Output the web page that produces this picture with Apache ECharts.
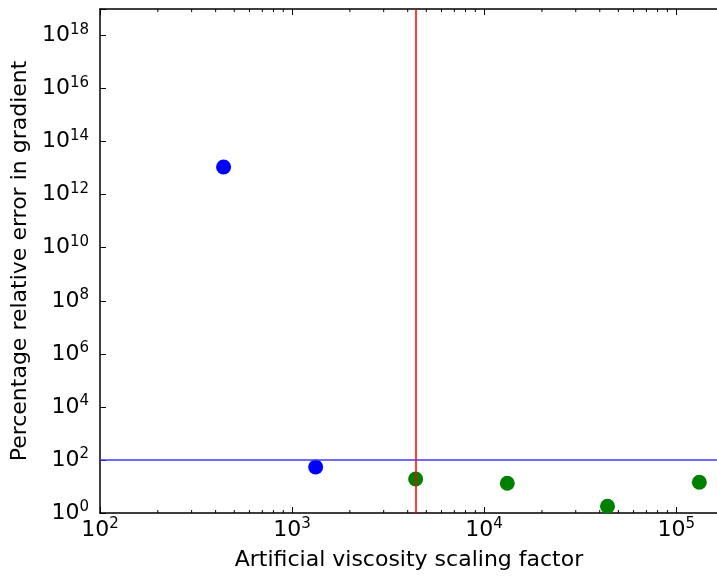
<!DOCTYPE html>
<html><head><meta charset="utf-8">
<script src="https://cdn.jsdelivr.net/npm/echarts@6/dist/echarts.min.js"></script>
<style>html,body{margin:0;padding:0;background:#fff;overflow:hidden;width:717px;height:576px}#c{width:737px;height:576px}</style>
</head><body><div id="c"></div>
<script>
// Data
const blueX = [440, 1327];
const blueY = [1.1e13, 54];
const greenX = [4400, 13200, 43900, 132000];
const greenY = [19.1, 13.2, 1.79, 14.4];
const thresholdY = 100;
const thresholdX = 4400;
const xMin = 100, xMax = 2e5;
const yMin = 1, yMax = 1e19;
const xTickExps = [2, 3, 4, 5];
const yTickExps = [0, 2, 4, 6, 8, 10, 12, 14, 16, 18];
const xTitle = 'Artificial viscosity scaling factor';
const yTitle = 'Percentage relative error in gradient';

const FONT = 'DejaVu Sans';
function expLabel(exps) {
  return function (v) {
    const l = Math.log10(v);
    const e = Math.round(l);
    if (Math.abs(l - e) > 1e-6 || exps.indexOf(e) < 0) return '';
    return '{b|10}{s|' + e + '}';
  };
}
const rich = {
  b: {fontFamily: FONT, fontSize: 22, color: '#000'},
  s: {fontFamily: FONT, fontSize: 15, color: '#000', padding: [0, 0, 11, 0]}
};
// minor tick positions on log x axis (2..9 x 10^k)
const minorX = [];
for (let k = 2; k <= 5; k++) for (let m = 2; m <= 9; m++) {
  const v = m * Math.pow(10, k);
  if (v < xMax) minorX.push([v]);
}

const chart = echarts.init(document.getElementById('c'));
chart.setOption({
  animation: false,
  backgroundColor: '#fff',
  grid: {left: 100, top: 9, bottom: 63, right: 0, containLabel: false},
  xAxis: [{
    type: 'log', logBase: 10, min: xMin, max: xMax, interval: 1,
    position: 'bottom',
    axisLine: {show: true, onZero: false, lineStyle: {color: '#000', width: 1.5}},
    axisTick: {show: true, inside: true, length: 6, lineStyle: {color: '#000', width: 1}},
    splitLine: {show: false},
    axisLabel: {formatter: expLabel(xTickExps), rich: rich, margin: 4},
    name: xTitle, nameLocation: 'middle', nameGap: 36,
    nameTextStyle: {fontFamily: FONT, fontSize: 22, color: '#000', padding: [0, 16, 0, 0]}
  }, {
    type: 'log', logBase: 10, min: xMin, max: xMax, interval: 1,
    position: 'top',
    axisLine: {show: true, onZero: false, lineStyle: {color: '#000', width: 1.5}},
    axisTick: {show: true, inside: true, length: 6, lineStyle: {color: '#000', width: 1}},
    splitLine: {show: false},
    axisLabel: {show: false}
  }],
  yAxis: [{
    type: 'log', logBase: 10, min: yMin, max: yMax, interval: 2,
    axisLine: {show: true, onZero: false, lineStyle: {color: '#000', width: 1.5}},
    axisTick: {show: true, inside: true, length: 6, lineStyle: {color: '#000', width: 1}},
    splitLine: {show: false},
    axisLabel: {formatter: expLabel(yTickExps), rich: rich, margin: 11},
    name: yTitle, nameLocation: 'middle', nameGap: 64,
    nameTextStyle: {fontFamily: FONT, fontSize: 22, color: '#000'}
  }],
  series: [{
    type: 'scatter', xAxisIndex: 0, yAxisIndex: 0,
    data: blueX.map((x, i) => [x, blueY[i]]),
    symbol: 'circle', symbolSize: 15,
    itemStyle: {color: '#0000ff', opacity: 1},
    markLine: {
      silent: true, symbol: 'none', label: {show: false},
      lineStyle: {color: '#3b3bff', width: 1.5, type: 'solid', opacity: 1},
      data: [{yAxis: thresholdY}]
    },
    z: 3
  }, {
    type: 'scatter', xAxisIndex: 0, yAxisIndex: 0,
    data: greenX.map((x, i) => [x, greenY[i]]),
    symbol: 'circle', symbolSize: 15,
    itemStyle: {color: '#008000', opacity: 1},
    markLine: {
      silent: true, symbol: 'none', label: {show: false},
      lineStyle: {color: '#ff0000', width: 1.5, type: 'solid', opacity: 1},
      data: [{xAxis: thresholdX}]
    },
    z: 3
  }, {
    type: 'custom', xAxisIndex: 0, yAxisIndex: 0, silent: true,
    data: minorX,
    renderItem: function (params, api) {
      const b = api.coord([api.value(0), yMin]);
      const t = api.coord([api.value(0), yMax]);
      return {type: 'group', children: [
        {type: 'line', shape: {x1: b[0], y1: b[1], x2: b[0], y2: b[1] - 3}, style: {stroke: '#000', lineWidth: 1}},
        {type: 'line', shape: {x1: t[0], y1: t[1], x2: t[0], y2: t[1] + 3}, style: {stroke: '#000', lineWidth: 1}}
      ]};
    },
    clip: false, z: 2
  }]
});
</script></body></html>
